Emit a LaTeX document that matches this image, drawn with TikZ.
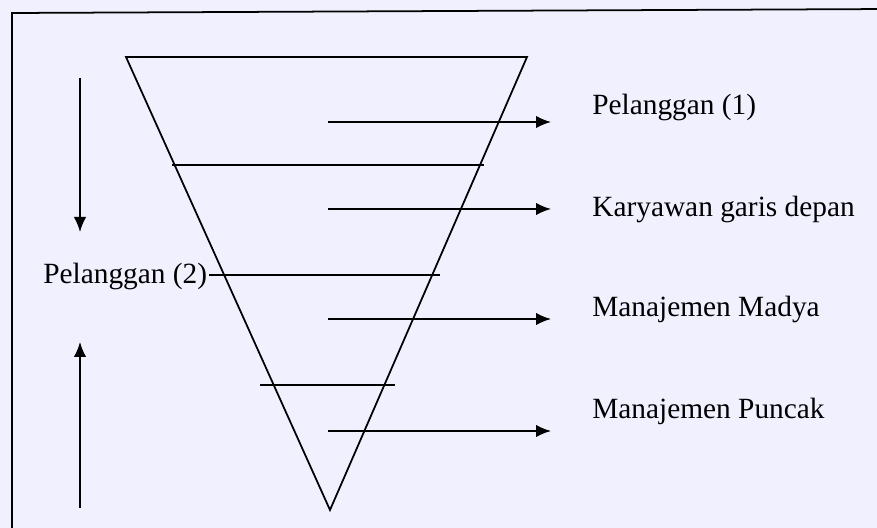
\documentclass[tikz,border=0pt]{standalone}
\usepackage{fontspec}
\setmainfont{Liberation Serif}
\usetikzlibrary{arrows.meta}
\tikzset{
  lbl/.style={anchor=base west, inner sep=0pt, font=\fontsize{16.7}{20}\selectfont},
  garis/.style={line width=1pt},
  flow/.style={-{Latex[length=3mm, width=2.5mm]}, line width=1pt},
}
\begin{document}
\begin{tikzpicture}
    \fill[blue!6] (0,0) rectangle (17.54,10.56);
    \useasboundingbox (0,0) rectangle (17.54,10.56);
    % bingkai
    \draw[garis] (0.24,-0.2) -- (0.24,10.30) -- (17.8,10.38);
    % segitiga terbalik
    \coordinate (ta) at (2.52,9.42);
    \coordinate (tb) at (10.54,9.42);
    \coordinate (tc) at (6.60,0.36);
    \draw[garis] (ta) -- (tb) -- (tc) -- cycle;
    % label
    \node[lbl] (pel1) at (11.84,8.26) {Pelanggan (1)};
    \node[lbl] (kary) at (11.84,6.22) {Karyawan garis depan};
    \node[lbl] (madya) at (11.84,4.22) {Manajemen Madya};
    \node[lbl] (puncak) at (11.84,2.18) {Manajemen Puncak};
    \node[lbl] (pel2) at (0.86,4.88) {Pelanggan (2)};
    % garis pembagi
    \coordinate (g1a) at (3.44,7.26);
    \coordinate (g1b) at (9.68,7.26);
    \coordinate (g2b) at (8.80,5.06);
    \coordinate (g3a) at (5.20,2.86);
    \coordinate (g3b) at (7.90,2.86);
    \draw[garis] (g1a) -- (g1b);
    \draw[garis] ([xshift=1pt]pel2.east |- g2b) -- (g2b);
    \draw[garis] (g3a) -- (g3b);
    % panah ke label
    \coordinate (a1) at (6.56,8.12);
    \coordinate (b1) at (11.02,8.12);
    \coordinate (a2) at (6.56,6.38);
    \coordinate (b2) at (11.02,6.38);
    \coordinate (a3) at (6.56,4.18);
    \coordinate (b3) at (11.02,4.18);
    \coordinate (a4) at (6.56,1.94);
    \coordinate (b4) at (11.02,1.94);
    \draw[flow] (a1) -- (b1);
    \draw[flow] (a2) -- (b2);
    \draw[flow] (a3) -- (b3);
    \draw[flow] (a4) -- (b4);
    % panah kiri
    \coordinate (turunA) at (1.60,9.00);
    \coordinate (turunB) at (1.60,5.92);
    \coordinate (naikA) at (1.60,0.40);
    \coordinate (naikB) at (1.60,3.72);
    \draw[flow] (turunA) -- (turunB);
    \draw[flow] (naikA) -- (naikB);
\end{tikzpicture}
\end{document}
